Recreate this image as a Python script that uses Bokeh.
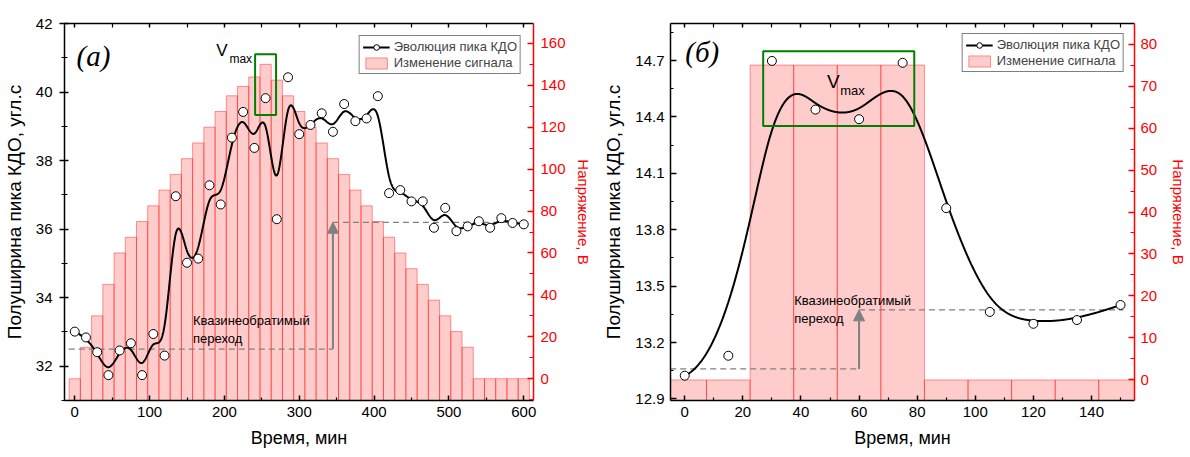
import numpy as np
from bokeh.plotting import figure
from bokeh.models import (Range1d, LinearAxis, FixedTicker, PrintfTickFormatter,
                          Legend, LegendItem, BoxAnnotation, Arrow, NormalHead, Label)
from bokeh.layouts import row
from bokeh.embed import file_html
from bokeh.resources import INLINE

SANS = "Liberation Sans"
SERIF = "Liberation Serif"
RED = "#ff0000"
GREY = "#808080"
GREEN = "#008000"

# ---------------- panel (a): long exposure ----------------
time_a = [0, 15, 30, 45, 60, 75, 90, 105, 120, 135, 150, 165, 180, 195, 210, 225,
          240, 255, 270, 285, 300, 315, 330, 345, 360, 375, 390, 405, 420, 435,
          450, 465, 480, 495, 510, 525, 540, 555, 570, 585, 600]
fwhm_a = [33.01, 32.84, 32.41, 31.74, 32.46, 32.67, 31.74, 32.94, 32.31, 36.96,
          35.02, 35.14, 37.28, 36.72, 38.67, 39.42, 38.37, 39.82, 36.29, 40.43,
          38.77, 39.04, 39.38, 38.84, 39.65, 39.15, 39.23, 39.88, 37.05, 37.14,
          36.81, 36.81, 36.04, 36.62, 35.94, 36.08, 36.23, 36.04, 36.32, 36.18, 36.14]
volt_a = [0, 15, 30, 45, 60, 67.5, 75, 82.5, 90, 97.5, 105, 112.5, 120, 127.5, 135,
          139.5, 144, 150, 142.5, 135, 127.5, 120, 112.5, 105, 97.5, 90, 82.5, 75,
          67.5, 60, 52.5, 45, 37.5, 30, 22.5, 15, 0, 0, 0, 0, 0]

xticks_a = [0, 100, 200, 300, 400, 500, 600]
xminor_a = [50, 150, 250, 350, 450, 550]
yticks_a = [32, 34, 36, 38, 40, 42]
yminor_a = [31, 33, 35, 37, 39, 41]
vticks_a = [0, 20, 40, 60, 80, 100, 120, 140, 160]
vminor_a = [-10, 10, 30, 50, 70, 90, 110, 130, 150]

# ---------------- panel (б): short exposure ----------------
time_b = [0, 15, 30, 45, 60, 75, 90, 105, 120, 135, 150]
fwhm_b = [13.024, 13.13, 14.698, 14.439, 14.388, 14.688, 13.915, 13.363, 13.30, 13.32, 13.40]
volt_b = [0, 0, 75, 75, 75, 75, 0, 0, 0, 0, 0]

xticks_b = [0, 20, 40, 60, 80, 100, 120, 140]
xminor_b = [10, 30, 50, 70, 90, 110, 130, 150]
yticks_b = [12.9, 13.2, 13.5, 13.8, 14.1, 14.4, 14.7]
yminor_b = [13.05, 13.35, 13.65, 13.95, 14.25, 14.55, 14.85]
vticks_b = [0, 10, 20, 30, 40, 50, 60, 70, 80]
vminor_b = [5, 15, 25, 35, 45, 55, 65, 75]

# quasi-irreversible transition: arrow time, level before / after, dashed extent
trans_a = {"t": 345, "before": 32.5, "after": 36.2, "t0": -8, "t1": 600}
trans_b = {"t": 60, "before": 13.06, "after": 13.374, "t0": -5, "t1": 151}

# frame around the maximum-voltage region
vmax_box_a = {"left": 241, "right": 269, "bottom": 39.33, "top": 41.10}
vmax_box_b = {"left": 27, "right": 79, "bottom": 14.352, "top": 14.749}


def bspline(xs, ys, samples=1500, k=3):
    """Clamped uniform cubic B-spline with the measured points as control points."""
    pts = np.column_stack([xs, ys]).astype(float)
    m = len(pts)
    span = m - k
    knots = np.concatenate([np.zeros(k), np.arange(span + 1), np.full(k, span)]).astype(float)
    u = np.linspace(0, span, samples)
    u[-1] -= 1e-9
    N = np.array([(u >= knots[i]) & (u < knots[i + 1])
                  for i in range(len(knots) - 1)], dtype=float).T
    for d in range(1, k + 1):
        cols = []
        for i in range(len(knots) - 1 - d):
            left = knots[i + d] - knots[i]
            right = knots[i + d + 1] - knots[i + 1]
            term = np.zeros_like(u)
            if left > 0:
                term += (u - knots[i]) / left * N[:, i]
            if right > 0:
                term += (knots[i + d + 1] - u) / right * N[:, i + 1]
            cols.append(term)
        N = np.column_stack(cols)
    curve = N @ pts
    return curve[:, 0], curve[:, 1]


def style_axis(ax, color, tin, tout, min_in, min_out, lbl_standoff, title_standoff,
               title_size="18px"):
    ax.axis_line_color = color
    ax.axis_line_width = 1.5
    ax.major_tick_line_color = color
    ax.major_tick_line_width = 1.5
    ax.minor_tick_line_color = color
    ax.minor_tick_line_width = 1.2
    ax.major_tick_in = tin
    ax.major_tick_out = tout
    ax.minor_tick_in = min_in
    ax.minor_tick_out = min_out
    ax.major_label_text_color = color
    ax.major_label_text_font = SANS
    ax.major_label_text_font_size = "15px"
    ax.major_label_standoff = lbl_standoff
    ax.axis_label_text_font = SANS
    ax.axis_label_text_font_size = title_size
    ax.axis_label_text_font_style = "normal"
    ax.axis_label_text_color = color
    ax.axis_label_standoff = title_standoff


def make_panel(t, fwhm, volt, cfg):
    p = figure(width=cfg["width"], height=457,
               x_range=Range1d(*cfg["xr"]), y_range=Range1d(*cfg["yr"]),
               output_backend="svg", toolbar_location=None)
    p.min_border_left, p.min_border_right = cfg["borders"][0], cfg["borders"][1]
    p.min_border_top, p.min_border_bottom = cfg["borders"][2], cfg["borders"][3]
    p.outline_line_color = None
    p.xgrid.visible = False
    p.ygrid.visible = False
    p.background_fill_color = "white"
    p.border_fill_color = "white"
    p.extra_y_ranges = {"volt": Range1d(*cfg["vr"])}

    xa = p.xaxis[0]
    xa.ticker = FixedTicker(ticks=cfg["xticks"], minor_ticks=cfg["xminor"])
    xa.axis_label = "Время, мин"
    style_axis(xa, "black", 5, 0, 3, 0, 6, 8)

    ya = p.yaxis[0]
    ya.ticker = FixedTicker(ticks=cfg["yticks"], minor_ticks=cfg["yminor"])
    ya.formatter = PrintfTickFormatter(format=cfg["yfmt"])
    ya.axis_label = "Полуширина пика КДО, угл.с"
    style_axis(ya, "black", cfg["ltick"][0], cfg["ltick"][1], 3, cfg["ltick"][2],
               cfg["lstand"], cfg["ltitle"], "19px")

    top = LinearAxis(ticker=FixedTicker(ticks=cfg["xticks"], minor_ticks=cfg["xminor"]))
    style_axis(top, "black", 4, 0, 4, 0, 0, 0)
    top.major_label_text_font_size = "0px"
    top.major_label_text_color = None
    p.add_layout(top, "above")

    va = LinearAxis(y_range_name="volt",
                    ticker=FixedTicker(ticks=cfg["vticks"], minor_ticks=cfg["vminor"]),
                    axis_label="Напряжение, В")
    style_axis(va, RED, 6, 0, 4, 0, cfg["rstand"], cfg["rtitle"], "15px")
    p.add_layout(va, "right")

    # voltage steps
    bars = p.vbar(x=t, width=15, top=volt, bottom=cfg["vr"][0], y_range_name="volt",
                  fill_color=RED, fill_alpha=0.2, line_color=RED, line_alpha=0.4, line_width=1)

    # transition levels and arrow
    tr = cfg["trans"]
    p.line([tr["t0"], tr["t"]], [tr["before"], tr["before"]], line_color=GREY,
           line_width=1.3, line_dash="6 4")
    p.line([tr["t"], tr["t1"]], [tr["after"], tr["after"]], line_color=GREY,
           line_width=1.3, line_dash="6 4")
    p.add_layout(Arrow(end=NormalHead(size=11, fill_color=GREY, line_color=GREY),
                       x_start=tr["t"], y_start=tr["before"], x_end=tr["t"], y_end=tr["after"],
                       line_color=GREY, line_width=2))

    # measured peak width with B-spline connection
    cx, cy = bspline(t, fwhm)
    curve = p.line(cx, cy, line_color="black", line_width=2)
    pts = p.scatter(t, fwhm, marker="circle", size=9, fill_color="white",
                    line_color="black", line_width=1)

    box = cfg["box"]
    p.add_layout(BoxAnnotation(left=box["left"], right=box["right"], bottom=box["bottom"],
                               top=box["top"], fill_color=None, fill_alpha=0,
                               line_color=GREEN, line_alpha=1, line_width=2))

    for (x, y, txt, font, size, style) in cfg["labels"]:
        p.add_layout(Label(x=x, y=y, text=txt, text_font=font, text_font_size=size,
                           text_font_style=style, text_baseline="middle", text_color="black"))

    legend = Legend(items=[LegendItem(label="Эволюция пика КДО", renderers=[curve, pts]),
                           LegendItem(label="Изменение сигнала", renderers=[bars])],
                    location="top_right", margin=cfg["lmargin"],
                    border_line_color="black", border_line_width=1,
                    background_fill_color="white", background_fill_alpha=1,
                    label_text_font=SANS, label_text_font_size="13px",
                    glyph_width=27, glyph_height=14, label_height=14,
                    spacing=1, padding=3, label_standoff=4)
    p.add_layout(legend)
    return p


cfg_a = dict(width=600, borders=(63, 67, 20, 57), xr=(-13.7, 613), yr=(31, 42), vr=(-10.4, 169.5),
             xticks=xticks_a, xminor=xminor_a, yticks=yticks_a, yminor=yminor_a,
             vticks=vticks_a, vminor=vminor_a, yfmt="%d", ltick=(4, 5, 3), lstand=7, ltitle=8,
             rstand=7, rtitle=6, trans=trans_a, box=vmax_box_a, lmargin=12,
             labels=[(2.3, 41.06, "(a)", SERIF, "29px", "italic"),
                     (189, 41.22, "V", SANS, "17px", "normal"),
                     (206.7, 40.96, "max", SANS, "12px", "normal"),
                     (158, 33.33, "Квазинеобратимый", SANS, "13px", "normal"),
                     (158, 32.81, "переход", SANS, "13px", "normal")])

cfg_b = dict(width=590, borders=(68, 52, 23, 55), xr=(-4.9, 154.8), yr=(12.892, 14.897),
             vr=(-4.9, 84.9), xticks=xticks_b, xminor=xminor_b, yticks=yticks_b, yminor=yminor_b,
             vticks=vticks_b, vminor=vminor_b, yfmt="%.1f", ltick=(6, 0, 0), lstand=6, ltitle=8,
             rstand=6, rtitle=10, trans=trans_b, box=vmax_box_b, lmargin=10,
             labels=[(0.2, 14.745, "(б)", SERIF, "29px", "italic"),
                     (49.0, 14.587, "V", SANS, "19px", "normal"),
                     (53.5, 14.539, "max", SANS, "13px", "normal"),
                     (37.7, 13.425, "Квазинеобратимый", SANS, "13px", "normal"),
                     (37.7, 13.33, "переход", SANS, "13px", "normal")])

p_a = make_panel(time_a, fwhm_a, volt_a, cfg_a)
p_b = make_panel(time_b, fwhm_b, volt_b, cfg_b)

layout = row(p_a, p_b)
open("out.html", "w").write(file_html(layout, INLINE))
